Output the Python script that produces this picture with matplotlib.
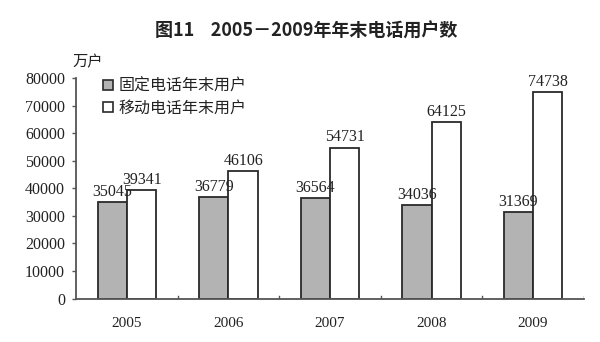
import matplotlib
matplotlib.use("Agg")
import matplotlib.pyplot as plt
import numpy as np
from matplotlib.patches import Patch

plt.rcParams['font.family'] = ['Noto Sans CJK SC', 'DejaVu Sans']

years = ['2005', '2006', '2007', '2008', '2009']
fixed = [35045, 36779, 36564, 34036, 31369]
mobile = [39341, 46106, 54731, 64125, 74738]
yticks = [0, 10000, 20000, 30000, 40000, 50000, 60000, 70000, 80000]
title = '图11    2005－2009年年末电话用户数'
unit = '万户'
labels = ['固定电话年末用户', '移动电话年末用户']

fig = plt.figure(figsize=(6, 3.42), dpi=100)
ax = fig.add_axes([0.127, 0.127, 0.846, 0.645])

x = np.arange(len(years))
w = 0.29
serif = 'Liberation Serif'
ax.bar(x - w/2, fixed, w, color='#b3b3b3', edgecolor='#2a2a2a', linewidth=1.3)
ax.bar(x + w/2, mobile, w, color='white', edgecolor='#2a2a2a', linewidth=1.3)

for xi, v in zip(x - w/2, fixed):
    ax.text(xi, v + 800, str(v), ha='center', va='bottom', fontsize=11.5,
            family=serif, color='#222222')
for xi, v in zip(x + w/2, mobile):
    ax.text(xi, v + 800, str(v), ha='center', va='bottom', fontsize=11.5,
            family=serif, color='#222222')

ax.set_xlim(-0.5, len(years) - 0.5)
ax.set_ylim(0, 80000)
ax.set_yticks(yticks)
ax.set_yticklabels([str(t) for t in yticks], family=serif, fontsize=11.5, color='#222222')
ax.set_xticks(x)
ax.set_xticklabels(years, family=serif, fontsize=11, color='#222222')
ax.tick_params(axis='y', length=3, width=1, color='#555555', pad=5, direction='out')
ax.tick_params(axis='x', length=0, pad=13)
for b in np.arange(0.5, len(years), 1.0):
    ax.plot([b, b], [0, 1000], color='#555555', lw=1)
for s in ['top', 'right']:
    ax.spines[s].set_visible(False)
for s in ['left', 'bottom']:
    ax.spines[s].set_color('#555555')
    ax.spines[s].set_linewidth(1.3)

handles = [Patch(facecolor='#b3b3b3', edgecolor='#2a2a2a', lw=1.2),
           Patch(facecolor='white', edgecolor='#2a2a2a', lw=1.2)]
ax.legend(handles, labels, loc='upper left', bbox_to_anchor=(0.025, 1.065), frameon=False,
          fontsize=11.5, handlelength=0.6, handleheight=0.6, handletextpad=0.35,
          labelspacing=0.3, labelcolor='#222222')

fig.text(0.51, 0.91, title, ha='center', va='center', fontsize=13, fontweight='bold',
         color='#222222')
fig.text(0.12, 0.82, unit, ha='left', va='center', fontsize=11, color='#222222')

fig.savefig('out.png', dpi=100)
